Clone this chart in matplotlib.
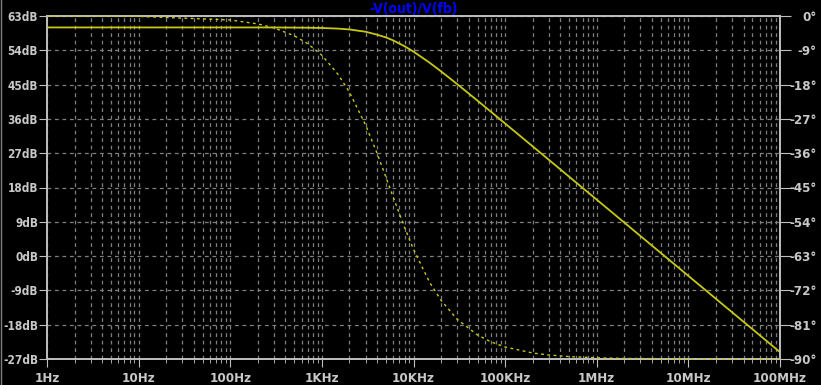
import matplotlib
matplotlib.use("Agg")
import matplotlib.pyplot as plt
from matplotlib.ticker import FixedLocator, LogLocator, NullFormatter
from matplotlib.lines import Line2D
from matplotlib import font_manager
from matplotlib.font_manager import FontProperties

# ---- data ----
freq_hz = [1, 10, 100, 200, 300, 500, 700, 1000, 1500, 2000, 3000, 4000, 5000, 6000,
           8000, 10000, 15000, 20000, 30000, 50000, 70000, 100000, 200000, 300000,
           500000, 1e6, 2e6, 1e7, 1e8]
mag_db = [60.0, 60.0, 60.0, 60.0, 59.99, 59.96, 59.93, 59.86, 59.69, 59.47, 58.87, 58.1,
          57.38, 56.6, 55.06, 53.66, 50.74, 48.47, 45.12, 40.78, 37.88, 34.79, 28.79,
          25.27, 20.83, 14.81, 8.79, -5.19, -25.19]
phase_deg = [-0.01, -0.1, -1.04, -2.08, -3.12, -5.19, -7.25, -10.3, -15.3, -20.0, -28.6,
             -36.0, -42.3, -47.5, -55.5, -61.2, -69.9, -74.6, -79.6, -83.7, -85.5,
             -86.85, -88.43, -88.95, -89.37, -89.69, -89.84, -89.97, -90.0]

x_ticks = [1, 10, 100, 1e3, 1e4, 1e5, 1e6, 1e7, 1e8]
x_labels = ['1Hz', '10Hz', '100Hz', '1KHz', '10KHz', '100KHz', '1MHz', '10MHz', '100MHz']
db_ticks = [63, 54, 45, 36, 27, 18, 9, 0, -9, -18, -27]
db_labels = ['63dB', '54dB', '45dB', '36dB', '27dB', '18dB', '9dB', '0dB', '-9dB', '-18dB', '-27dB']
ph_ticks = [0, -9, -18, -27, -36, -45, -54, -63, -72, -81, -90]
ph_labels = ['0°', '-9°', '-18°', '-27°', '-36°', '-45°', '-54°', '-63°', '-72°', '-81°', '-90°']
title = '-V(out)/V(fb)'

# ---- font: prefer a condensed bold face ----
fp = None
paths = [f.fname for f in font_manager.fontManager.ttflist]
for key in ['DejaVuSansCondensed-Bold', 'LiberationSansNarrow-Bold']:
    hits = [p for p in paths if key in p]
    if hits:
        fp = FontProperties(fname=hits[0], size=9.5)
        break
if fp is None:
    fp = FontProperties(family='Liberation Sans', weight='bold', size=9)
left_fp = fp.copy()
left_fp.set_size(8.5)
title_fp = fp.copy()
title_fp.set_size(10)

W, H, DPI = 821, 385, 100
fig = plt.figure(figsize=(W / DPI, H / DPI), dpi=DPI, facecolor='black')
L, R, T, B = 47, 780, 16, 359
ax = fig.add_axes([L / W, 1 - B / H, (R - L) / W, (B - T) / H])
ax.set_facecolor('black')

txt_col = '#c8c8c8'
spine_col = '#c0c0c0'
grid_col = '#808080'
trace_col = '#c8c814'

ax.set_xscale('log')
ax.set_xlim(1, 1e8)
ax.set_ylim(-27, 63)

ax.xaxis.set_major_locator(FixedLocator(x_ticks))
ax.set_xticklabels(x_labels)
ax.xaxis.set_minor_locator(LogLocator(base=10, subs=range(2, 10), numticks=100))
ax.xaxis.set_minor_formatter(NullFormatter())
ax.set_yticks(db_ticks)
ax.set_yticklabels(db_labels)

for s in ax.spines.values():
    s.set_color(spine_col)
    s.set_linewidth(1.2)

ax.tick_params(axis='x', which='major', direction='out', length=6, color=spine_col,
               labelcolor=txt_col, pad=3)
ax.tick_params(axis='x', which='minor', direction='out', length=3, color=spine_col)
ax.tick_params(axis='y', which='major', direction='out', length=6, color=spine_col,
               labelcolor=txt_col, pad=0.5)
for lab in ax.get_xticklabels():
    lab.set_fontproperties(fp)
for lab in ax.get_yticklabels():
    lab.set_fontproperties(left_fp)

ax.grid(True, which='major', axis='both', color=grid_col, linestyle=(0, (3, 3)), linewidth=0.9)
ax.grid(True, which='minor', axis='x', color=grid_col, linestyle=(0, (3, 3)), linewidth=0.9)
ax.set_axisbelow(True)

ax.plot(freq_hz, mag_db, color=trace_col, linewidth=1.3, solid_capstyle='butt', zorder=5)

ax2 = ax.twinx()
ax2.set_ylim(-90, 0)
ax2.set_xlim(1, 1e8)
ax2.set_yticks(ph_ticks)
ax2.set_yticklabels(ph_labels)
for s in ax2.spines.values():
    s.set_color(spine_col)
    s.set_linewidth(1.2)
ax2.tick_params(axis='y', direction='out', length=8, color=spine_col, labelcolor=txt_col,
                pad=18.5)
for t in ax2.yaxis.get_major_ticks():
    t.label2.set_fontproperties(fp)
    t.label2.set_horizontalalignment('right')

ax2.plot(freq_hz, phase_deg, color=trace_col, linewidth=1.0, linestyle=(0, (2, 2.5)),
         clip_on=False, zorder=6)

ax.set_title(title, color='#0000ff', fontproperties=title_fp, pad=2)

fig.add_artist(Line2D([0.5 / W, 0.5 / W], [0, 1], color='#808080', linewidth=1,
                      transform=fig.transFigure))

fig.savefig('out.png', dpi=DPI, facecolor='black')
